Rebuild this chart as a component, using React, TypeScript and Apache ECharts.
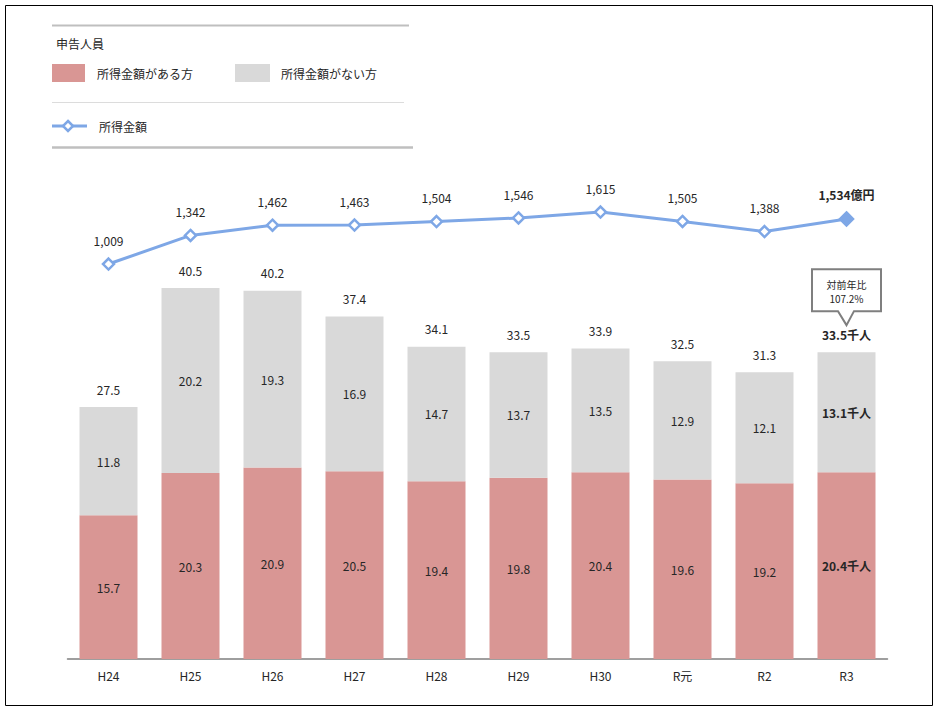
import React, { useEffect, useRef } from "react";
import * as echarts from "echarts";

const categories = ["H24", "H25", "H26", "H27", "H28", "H29", "H30", "R元", "R2", "R3"];
const withIncome = [15.7, 20.3, 20.9, 20.5, 19.4, 19.8, 20.4, 19.6, 19.2, 20.4];
const withoutIncome = [11.8, 20.2, 19.3, 16.9, 14.7, 13.7, 13.5, 12.9, 12.1, 13.1];
const totals = [27.5, 40.5, 40.2, 37.4, 34.1, 33.5, 33.9, 32.5, 31.3, 33.5];
const incomeAmount = [1009, 1342, 1462, 1463, 1504, 1546, 1615, 1505, 1388, 1534];
const yoyLabel = ["対前年比", "107.2%"];

const FONT = "'Noto Sans CJK JP', 'Noto Sans', sans-serif";
const RED = "#D99694";
const GRAY = "#D9D9D9";
const BLUE = "#7EA7E6";
const TEXT = "#262626";

export default function App() {
  const ref = useRef<HTMLDivElement>(null);
  useEffect(() => {
    if (!ref.current) return;
    const chart = echarts.init(ref.current, null, { renderer: "svg" });
    const last = categories.length - 1;
    const fmt1 = (v: number) => v.toFixed(1);
    const fmtN = (v: number) => v.toLocaleString("en-US");

    const barLabel = { show: true, position: "inside", color: TEXT, fontSize: 12, fontFamily: FONT };

    chart.setOption({
      animation: false,
      textStyle: { fontFamily: FONT },
      grid: [
        { left: 67.5, right: 52.5, top: 201, bottom: 55 },
        { left: 67.5, right: 52.5, top: 179, bottom: 363.4 },
      ],
      xAxis: [
        {
          gridIndex: 0,
          type: "category",
          data: categories,
          axisLine: { lineStyle: { color: "#7f7f7f", width: 1.5 } },
          axisTick: { show: false },
          axisLabel: { color: TEXT, fontSize: 12, margin: 10, fontFamily: FONT },
        },
        { gridIndex: 1, type: "category", data: categories, show: false },
      ],
      yAxis: [
        { gridIndex: 0, type: "value", min: 0, max: 50, show: false },
        { gridIndex: 1, type: "value", min: 0, max: 2000, show: false },
      ],
      series: [
        {
          name: "所得金額がある方",
          type: "bar",
          stack: "people",
          barWidth: 58,
          silent: true,
          itemStyle: { color: RED },
          label: { ...barLabel, formatter: (p: any) => fmt1(p.value) },
          data: withIncome.map((v, i) =>
            i === last
              ? { value: v, label: { fontWeight: "bold", formatter: (p: any) => fmt1(p.value) + "千人" } }
              : v
          ),
        },
        {
          name: "所得金額がない方",
          type: "bar",
          stack: "people",
          barWidth: 58,
          silent: true,
          itemStyle: { color: GRAY },
          label: { ...barLabel, formatter: (p: any) => fmt1(p.value) },
          data: withoutIncome.map((v, i) =>
            i === last
              ? { value: v, label: { fontWeight: "bold", formatter: (p: any) => fmt1(p.value) + "千人" } }
              : v
          ),
        },
        {
          name: "合計",
          type: "scatter",
          symbolSize: 0,
          silent: true,
          itemStyle: { opacity: 1, color: TEXT },
          label: {
            show: true,
            position: "top",
            distance: 12,
            color: TEXT,
            opacity: 1,
            fontSize: 12,
            fontFamily: FONT,
          },
          data: totals.map((v, i) =>
            i === last
              ? {
                  value: v,
                  label: { fontWeight: "bold", formatter: (p: any) => fmt1(totals[p.dataIndex]) + "千人" },
                }
              : { value: v, label: { formatter: (p: any) => fmt1(totals[p.dataIndex]) } }
          ),
        },
        {
          name: "所得金額",
          type: "line",
          xAxisIndex: 1,
          yAxisIndex: 1,
          silent: true,
          symbol: "diamond",
          symbolSize: 11,
          showAllSymbol: true,
          lineStyle: { color: BLUE, width: 3 },
          itemStyle: { color: "#ffffff", borderColor: BLUE, borderWidth: 2.5 },
          label: {
            show: true,
            position: "top",
            distance: 11,
            color: TEXT,
            fontSize: 12,
            fontFamily: FONT,
            formatter: (p: any) => fmtN(p.value),
          },
          data: incomeAmount.map((v, i) =>
            i === last
              ? {
                  value: v,
                  symbolSize: 13,
                  itemStyle: { color: BLUE, borderColor: BLUE },
                  label: { fontWeight: "bold", formatter: (p: any) => fmtN(p.value) + "億円" },
                }
              : v
          ),
        },
      ],
    });

    const [cx, topY] = chart.convertToPixel({ xAxisIndex: 0, yAxisIndex: 0 }, [last, totals[last]]) as number[];
    const tipY = topY - 27;
    const boxBottom = tipY - 14;
    const boxTop = boxBottom - 42;
    const bl = cx - 34.5;
    const br = cx + 34.5;

    const legendFont = { fontSize: 12, fontFamily: FONT, fill: TEXT, verticalAlign: "middle" };

    chart.setOption({
      graphic: [
        {
          type: "rect",
          silent: true,
          shape: { x: 5.5, y: 5.5, width: 927, height: 700 },
          style: { fill: "none", stroke: "#000", lineWidth: 1 },
        },
        { type: "line", silent: true, shape: { x1: 52, y1: 25.5, x2: 409, y2: 25.5 }, style: { stroke: "#bfbfbf", lineWidth: 2 } },
        { type: "text", silent: true, style: { text: "申告人員", x: 56, y: 43, ...legendFont } },
        { type: "rect", silent: true, shape: { x: 52, y: 64, width: 33, height: 18 }, style: { fill: RED } },
        { type: "text", silent: true, style: { text: "所得金額がある方", x: 97, y: 73, ...legendFont } },
        { type: "rect", silent: true, shape: { x: 235, y: 64, width: 35, height: 18 }, style: { fill: GRAY } },
        { type: "text", silent: true, style: { text: "所得金額がない方", x: 281, y: 73, ...legendFont } },
        { type: "line", silent: true, shape: { x1: 52, y1: 102.5, x2: 404, y2: 102.5 }, style: { stroke: "#dcdcdc", lineWidth: 1 } },
        { type: "line", silent: true, shape: { x1: 52, y1: 126, x2: 87, y2: 126 }, style: { stroke: BLUE, lineWidth: 3 } },
        {
          type: "polygon",
          silent: true,
          shape: { points: [[68, 121], [73, 126], [68, 131], [63, 126]] },
          style: { fill: "#fff", stroke: BLUE, lineWidth: 2.5 },
        },
        { type: "text", silent: true, style: { text: "所得金額", x: 99, y: 126, ...legendFont } },
        { type: "line", silent: true, shape: { x1: 52, y1: 147.5, x2: 413, y2: 147.5 }, style: { stroke: "#bfbfbf", lineWidth: 2.5 } },
        {
          type: "polygon",
          silent: true,
          shape: {
            points: [
              [bl, boxTop],
              [br, boxTop],
              [br, boxBottom],
              [cx + 7.5, boxBottom],
              [cx, tipY],
              [cx - 8.5, boxBottom],
              [bl, boxBottom],
            ],
          },
          style: { fill: "#fff", stroke: "#7f7f7f", lineWidth: 2 },
        },
        {
          type: "text",
          silent: true,
          style: { text: yoyLabel[0], x: cx, y: boxTop + 15, align: "center", verticalAlign: "middle", fontSize: 10, fontFamily: FONT, fill: TEXT },
        },
        {
          type: "text",
          silent: true,
          style: { text: yoyLabel[1], x: cx, y: boxTop + 29, align: "center", verticalAlign: "middle", fontSize: 10, fontFamily: FONT, fill: TEXT },
        },
      ],
    });

    return () => chart.dispose();
  }, []);

  return (
    <div
      ref={ref}
      style={{ position: "absolute", left: 0, top: 0, width: 940, height: 714, background: "#fff" }}
    />
  );
}
